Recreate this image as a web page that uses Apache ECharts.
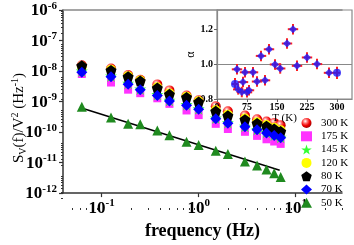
<!DOCTYPE html>
<html><head><meta charset="utf-8">
<script src="https://cdn.jsdelivr.net/npm/echarts@6/dist/echarts.min.js"></script>
<style>html,body{margin:0;padding:0;background:#fff}#c{width:354px;height:245px}</style>
</head><body><div id="c"></div>
<script>
// ---- main panel data: noise PSD vs frequency ----
const freq = [0.0625, 0.125, 0.1875, 0.25, 0.375, 0.5, 0.75, 1, 1.5, 2, 3, 4, 5, 6, 7];
const s300 = [1.55e-8, 1.2e-8, 7.4e-9, 5.2e-9, 3.65e-9, 2.32e-9, 1.58e-9, 1.11e-9, 7.0e-10, 4.8e-10, 3.5e-10, 2.64e-10, 2.2e-10, 2.0e-10, 1.67e-10];
const s175 = [8.0e-9, 4.2e-9, 2.45e-9, 1.88e-9, 1.28e-9, 8.4e-10, 5.1e-10, 3.6e-10, 1.86e-10, 1.26e-10, 1.02e-10, 7.5e-11, 5.8e-11, 4.9e-11, 4.1e-11];
const s145 = [1.0e-8, 6.9e-9, 4.0e-9, 2.6e-9, 1.7e-9, 1.1e-9, 8.0e-10, 5.8e-10, 2.9e-10, 2.05e-10, 1.55e-10, 1.22e-10, 9.8e-11, 8.0e-11, 6.8e-11];
const s120 = [1.4e-8, 1.1e-8, 6.8e-9, 4.9e-9, 2.95e-9, 1.85e-9, 1.45e-9, 1.02e-9, 5.2e-10, 3.7e-10, 2.8e-10, 2.1e-10, 1.7e-10, 1.38e-10, 1.14e-10];
const s80 = [1.49e-8, 1.05e-8, 6.5e-9, 4.7e-9, 2.76e-9, 1.73e-9, 1.37e-9, 9.7e-10, 4.8e-10, 3.4e-10, 2.55e-10, 1.92e-10, 1.56e-10, 1.26e-10, 1.04e-10];
const s70 = [9.1e-9, 6.5e-9, 3.7e-9, 2.45e-9, 1.58e-9, 1.04e-9, 7.5e-10, 5.6e-10, 2.75e-10, 1.96e-10, 1.48e-10, 1.18e-10, 9.3e-11, 7.7e-11, 6.5e-11];
const s50 = [6.8e-10, 3.0e-10, 1.88e-10, 1.8e-10, 1.12e-10, 7.8e-11, 4.8e-11, 3.8e-11, 2.46e-11, 1.9e-11, 1.08e-11, 8.0e-12, 5.9e-12, 4.45e-12, 3.4e-12];
// 1/f fit line for 50 K
const fitF = [0.0608, 6.84];
const fitS = [6.3e-10, 5.6e-12];
const seriesNames = ['300 K', '175 K', '145 K', '120 K', '80 K', '70 K', '50 K'];

// ---- inset: alpha vs T ----
const alphaT = [45, 50, 53, 62, 65, 70, 75, 80, 90, 100, 110, 120, 130, 145, 158, 175, 190, 200, 225, 250, 280, 300];
const alphaV = [0.886, 0.97, 0.855, 0.84, 0.897, 0.953, 0.838, 0.85, 0.953, 0.9, 1.047, 0.907, 1.085, 0.998, 0.975, 1.118, 1.2, 0.99, 1.038, 1.0, 0.95, 0.95];
const alphaErrT = [8, 13, 13, 13, 13, 13, 13, 13, 13, 13, 13, 13, 13, 13, 13, 13, 13, 13, 13, 13, 13, 8];
const alphaErrA = [0.035, 0.03, 0.03, 0.03, 0.03, 0.03, 0.03, 0.03, 0.03, 0.03, 0.03, 0.03, 0.03, 0.03, 0.03, 0.03, 0.03, 0.03, 0.03, 0.03, 0.03, 0.035];
const alphaShape = ['circle','diamond','diamond','diamond','diamond','diamond','diamond','diamond','diamond','diamond','diamond','diamond','diamond','diamond','diamond','diamond','diamond','diamond','diamond','diamond','diamond','circle'];

// ---- tick values ----
const xMajor = [0.1, 1, 10];
const yMajor = [1e-12, 1e-11, 1e-10, 1e-9, 1e-8, 1e-7, 1e-6];
const minorMult = [2, 3, 4, 5, 6, 7, 8, 9];
const xMinor = [0.05, 0.06, 0.07, 0.08, 0.09];
[0.1, 1, 10].forEach(d => minorMult.forEach(m => { if (d * m <= 30) xMinor.push(+(d * m).toPrecision(3)); }));
const yMinor = [];
[1e-12, 1e-11, 1e-10, 1e-9, 1e-8, 1e-7].forEach(d => minorMult.forEach(m => yMinor.push(+(d * m).toPrecision(3))));
const insetXTicks = [0, 75, 150, 225, 300];
const insetYTicks = [0.8, 1.0, 1.2];

const FF = '"Liberation Serif", "DejaVu Serif", serif';
const pentagon = 'path://M50,0 L97.6,34.5 L79.4,90.5 L20.6,90.5 L2.4,34.5 Z';
const star = 'path://M50,0 L61.2,34.5 L97.6,34.5 L68.2,55.9 L79.4,90.5 L50,69.1 L20.6,90.5 L31.8,55.9 L2.4,34.5 L38.8,34.5 Z';
const zip = (a, b) => a.map((v, i) => [v, b[i]]);

const expFmt = v => '{b|10}{s|' + Math.round(Math.log10(v)) + '}';
const richTick = {
  b: {fontFamily: FF, fontWeight: 'bold', fontSize: 17, lineHeight: 19, color: '#000', verticalAlign: 'bottom'},
  s: {fontFamily: FF, fontWeight: 'bold', fontSize: 11, lineHeight: 11, color: '#000', verticalAlign: 'top'}
};

const sphere = {type: 'radial', x: 0.38, y: 0.32, r: 0.7,
  colorStops: [{offset: 0, color: '#ffffff'}, {offset: 0.3, color: '#ff7070'}, {offset: 0.65, color: '#f00000'}, {offset: 1, color: '#a00000'}]};

const styles = [
  {symbol: 'circle', symbolSize: 10, color: sphere},
  {symbol: 'rect', symbolSize: 8, color: '#ff33ff'},
  {symbol: star, symbolSize: 12, color: '#33ff33'},
  {symbol: 'circle', symbolSize: 10, color: '#ffff00'},
  {symbol: pentagon, symbolSize: 11, color: '#000000'},
  {symbol: 'diamond', symbolSize: 11, color: '#0000ff'},
  {symbol: 'triangle', symbolSize: 10, color: '#1f8a1f'}
];
const vals = [s300, s175, s145, s120, s80, s70, s50];

const chart = echarts.init(document.getElementById('c'), null, {renderer: 'canvas'});

const mainSeries = seriesNames.map((n, i) => ({
  name: n, type: 'scatter', xAxisIndex: 0, yAxisIndex: 0,
  symbol: styles[i].symbol, symbolSize: styles[i].symbolSize,
  itemStyle: {color: styles[i].color, opacity: 1},
  data: zip(freq, vals[i]), z: 3 + i, silent: true
}));

const option = {
  animation: false,
  backgroundColor: '#fff',
  grid: [
    {left: 63, top: 10, right: 12, bottom: 37},
    {left: 63, top: 10, right: 12, bottom: 37},
    {left: 217, top: 10, right: 2, bottom: 146, show: true, backgroundColor: '#fff', borderColor: '#888', borderWidth: 1.2}
  ],
  legend: {
    data: seriesNames, orient: 'vertical', left: 296, top: 112.5,
    itemWidth: 11, itemHeight: 10, itemGap: 2.3,
    textStyle: {fontFamily: FF, fontSize: 11, color: '#000', lineHeight: 10, padding: [0, 0, 0, 4]},
    selectedMode: false
  },
  graphic: [{
    type: 'text', x: 19, y: 118, rotation: Math.PI / 2, silent: true,
    style: {
      text: '{n|S}{sub|V}{n|(f)/V}{sup|2}{n| (Hz}{sup|-1}{n|)}',
      align: 'center', verticalAlign: 'middle',
      rich: {
        n: {fontFamily: FF, fontSize: 15, fill: '#000', lineHeight: 18, verticalAlign: 'middle'},
        sub: {fontFamily: FF, fontSize: 10, fill: '#000', lineHeight: 14, verticalAlign: 'bottom'},
        sup: {fontFamily: FF, fontSize: 10, fill: '#000', lineHeight: 14, verticalAlign: 'top'}
      }
    }
  }],
  xAxis: [
    {type: 'log', gridIndex: 0, min: 0.04, max: 30, position: 'bottom',
     axisLine: {show: true, lineStyle: {color: '#333', width: 1.5}},
     axisTick: {show: true, customValues: xMajor, length: 4, lineStyle: {color: '#333', width: 1.2}},
     axisLabel: {customValues: xMajor, formatter: expFmt, rich: richTick, margin: 5},
     splitLine: {show: false}, minorTick: {show: false},
     name: 'frequency (Hz)', nameLocation: 'middle', nameGap: 19,
     nameTextStyle: {fontFamily: FF, fontWeight: 'bold', fontSize: 18, color: '#000'}},
    {type: 'log', gridIndex: 1, min: 0.04, max: 30, position: 'bottom',
     axisLine: {show: false},
     axisTick: {show: true, customValues: xMinor, length: 2, lineStyle: {color: '#333', width: 1}},
     axisLabel: {show: false}, splitLine: {show: false}},
    {type: 'log', gridIndex: 1, min: 0.04, max: 30, position: 'top',
     axisLine: {show: true, lineStyle: {color: '#888', width: 1.5}},
     axisTick: {show: false}, axisLabel: {show: false}, splitLine: {show: false}},
    {type: 'value', gridIndex: 2, min: 0, max: 337.5, interval: 75, position: 'bottom', z: 6,
     axisLine: {show: true, lineStyle: {color: '#888', width: 1.2}},
     axisTick: {show: true, customValues: insetXTicks, length: 3, inside: false, lineStyle: {color: '#666'}},
     axisLabel: {customValues: insetXTicks, fontFamily: FF, fontWeight: 'bold', fontSize: 10, color: '#000', margin: 3},
     splitLine: {show: false},
     name: 'T (K)', nameLocation: 'middle', nameGap: -11,
     nameTextStyle: {fontFamily: FF, fontSize: 11, color: '#000'}}
  ],
  yAxis: [
    {type: 'log', gridIndex: 0, min: 1e-12, max: 1e-6, position: 'left',
     axisLine: {show: true, lineStyle: {color: '#333', width: 1.5}},
     axisTick: {show: true, customValues: yMajor, length: 4, lineStyle: {color: '#333', width: 1.2}},
     axisLabel: {customValues: yMajor, formatter: expFmt, rich: richTick, margin: 6},
     splitLine: {show: false}},
    {type: 'log', gridIndex: 1, min: 1e-12, max: 1e-6, position: 'left',
     axisLine: {show: false},
     axisTick: {show: true, customValues: yMinor, length: 2, lineStyle: {color: '#333', width: 1}},
     axisLabel: {show: false}, splitLine: {show: false}},
    {type: 'value', gridIndex: 2, min: 0.8, max: 1.31, interval: 0.2, position: 'left', z: 6,
     axisLine: {show: true, lineStyle: {color: '#888', width: 1.2}},
     axisTick: {show: true, customValues: insetYTicks, length: 3, lineStyle: {color: '#666'}},
     axisLabel: {customValues: insetYTicks, formatter: v => v.toFixed(1), fontFamily: FF, fontWeight: 'bold', fontSize: 10, color: '#000', margin: 4},
     splitLine: {show: false},
     name: 'α', nameLocation: 'middle', nameGap: 20, nameRotate: 90,
     nameTextStyle: {fontFamily: FF, fontSize: 12, color: '#000'}}
  ],
  series: mainSeries.concat([
    {type: 'line', name: 'fit', xAxisIndex: 0, yAxisIndex: 0, data: zip(fitF, fitS), symbol: 'none',
     lineStyle: {color: '#000', width: 1.5}, z: 2, silent: true},
    {type: 'custom', xAxisIndex: 3, yAxisIndex: 2, z: 6, silent: true,
     data: alphaT.map((t, i) => [t, alphaV[i], alphaErrT[i], alphaErrA[i]]),
     encode: {x: 0, y: 1},
     renderItem: (params, api) => {
       const t = api.value(0), a = api.value(1), et = api.value(2), ea = api.value(3);
       const l = api.coord([t - et, a]), r = api.coord([t + et, a]);
       const tp = api.coord([t, a + ea]), bt = api.coord([t, a - ea]);
       const st = {stroke: '#ff2020', lineWidth: 2};
       return {type: 'group', children: [
         {type: 'line', shape: {x1: l[0], y1: l[1], x2: r[0], y2: r[1]}, style: st},
         {type: 'line', shape: {x1: tp[0], y1: tp[1], x2: bt[0], y2: bt[1]}, style: st}
       ]};
     }},
    {type: 'scatter', xAxisIndex: 3, yAxisIndex: 2, z: 7, silent: true,
     data: zip(alphaT, alphaV),
     symbol: (v, p) => alphaShape[p.dataIndex],
     symbolSize: 8,
     itemStyle: {color: '#1a1aff'},
     markLine: {silent: true, symbol: 'none', label: {show: false},
       lineStyle: {color: '#888', type: 'solid', width: 1.2},
       data: [{yAxis: 1.0}]}}
  ])
};
chart.setOption(option);
</script></body></html>
